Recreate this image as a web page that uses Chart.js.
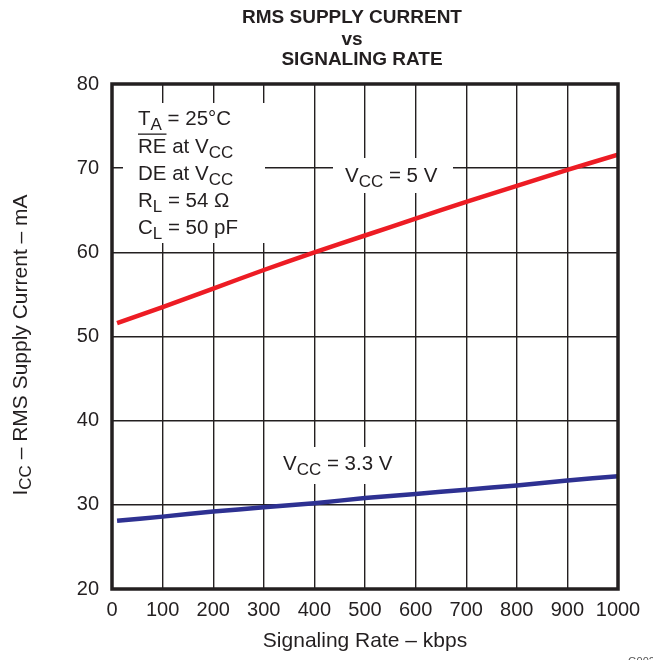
<!DOCTYPE html>
<html>
<head>
<meta charset="utf-8">
<script src="https://cdn.jsdelivr.net/npm/chart.js@4/dist/chart.umd.min.js"></script>
<style>
  html, body { margin: 0; padding: 0; background: #fff; }
  #wrap { width: 653px; height: 660px; }
</style>
</head>
<body>
<div id="wrap"><canvas id="chart" width="653" height="660"></canvas></div>
<script>
// Values
const rateKbps = [10, 100, 200, 300, 400, 500, 600, 700, 800, 900, 1000];
const iccAt5V = [51.6, 53.5, 55.7, 57.9, 60.0, 62.0, 64.0, 66.0, 67.9, 69.8, 71.6];
const iccAt3V3 = [28.1, 28.6, 29.2, 29.7, 30.2, 30.8, 31.3, 31.8, 32.3, 32.9, 33.4];

const xTickMin = 0, xTickMax = 1000, xTickStep = 100;
const yTickMin = 20, yTickMax = 80, yTickStep = 10;

const titleLines = ['RMS SUPPLY CURRENT', 'vs', 'SIGNALING RATE'];
const xAxisTitle = 'Signaling Rate \u2013 kbps';
const yAxisTitle = [{ t: 'I' }, { t: 'CC', sub: true }, { t: ' \u2013 RMS Supply Current \u2013 mA' }];
const conditions = [
    [{ t: 'T' }, { t: 'A', sub: true }, { t: ' = 25\u00B0C' }],
    [{ t: 'RE', over: true }, { t: ' at V' }, { t: 'CC', sub: true }],
    [{ t: 'DE at V' }, { t: 'CC', sub: true }],
    [{ t: 'R' }, { t: 'L', sub: true }, { t: ' = 54 \u03A9' }],
    [{ t: 'C' }, { t: 'L', sub: true }, { t: ' = 50 pF' }]
];
const label5V = [{ t: 'V' }, { t: 'CC', sub: true }, { t: ' = 5 V' }];
const label3V3 = [{ t: 'V' }, { t: 'CC', sub: true }, { t: ' = 3.3 V' }];

const FONT = '"Liberation Sans", Arial, Helvetica, sans-serif';
const INK = '#231f20';

function font(size, bold) {
    return (bold ? 'bold ' : '') + size + 'px ' + FONT;
}

// Measure a run of text parts (with subscripts / overlines)
function richWidth(ctx, parts, size) {
    let w = 0;
    parts.forEach(p => {
        ctx.font = font(p.sub ? Math.round(size * 0.82) : size);
        w += ctx.measureText(p.t).width;
    });
    return w;
}

function drawRich(ctx, parts, x, y, size, align) {
    let cx = align === 'center' ? x - richWidth(ctx, parts, size) / 2 : x;
    parts.forEach(p => {
        ctx.font = font(p.sub ? Math.round(size * 0.82) : size);
        const w = ctx.measureText(p.t).width;
        ctx.fillText(p.t, cx, y + (p.sub ? size * 0.26 : 0));
        if (p.over) {
            ctx.beginPath();
            ctx.lineWidth = 1.3;
            ctx.moveTo(cx, y - size * 0.92);
            ctx.lineTo(cx + w, y - size * 0.92);
            ctx.stroke();
        }
        cx += w;
    });
}

const annotations = {
    id: 'annotations',
    beforeDatasetsDraw(chart) {
        const ctx = chart.ctx;
        ctx.save();
        // white backgrounds that break the grid behind the labels
        ctx.fillStyle = '#fff';
        ctx.fillRect(123, 103, 142, 140);
        ctx.fillRect(333, 158, 120, 35);
        ctx.fillRect(273, 447, 129, 37);

        ctx.fillStyle = INK;
        ctx.strokeStyle = INK;
        ctx.textBaseline = 'alphabetic';
        ctx.textAlign = 'left';
        const baselines = [125, 153, 180, 207, 234];
        conditions.forEach((line, i) => drawRich(ctx, line, 138, baselines[i], 20.5));
        drawRich(ctx, label5V, 345, 182, 20.5);
        drawRich(ctx, label3V3, 283, 470, 20.5);
        ctx.restore();
    },
    afterDraw(chart) {
        const ctx = chart.ctx;
        const a = chart.chartArea;
        ctx.save();
        // plot frame
        ctx.strokeStyle = INK;
        ctx.lineWidth = 3.5;
        ctx.strokeRect(a.left, a.top, a.right - a.left, a.bottom - a.top);

        ctx.fillStyle = INK;
        ctx.textAlign = 'center';
        ctx.textBaseline = 'alphabetic';
        ctx.font = font(19, true);
        ctx.fillText(titleLines[0], 352, 23);
        ctx.fillText(titleLines[1], 352, 45);
        ctx.fillText(titleLines[2], 362, 65);

        ctx.font = font(21);
        ctx.textBaseline = 'middle';
        ctx.fillText(xAxisTitle, 365, 641);

        ctx.save();
        ctx.translate(21, 345);
        ctx.rotate(-Math.PI / 2);
        ctx.textAlign = 'left';
        drawRich(ctx, yAxisTitle, 0, 0, 21, 'center');
        ctx.restore();

        ctx.fillStyle = '#555';
        ctx.textAlign = 'left';
        ctx.textBaseline = 'alphabetic';
        ctx.font = font(11);
        ctx.fillText('G002', 628, 665);
        ctx.restore();
    }
};

const ctx = document.getElementById('chart').getContext('2d');

new Chart(ctx, {
    type: 'line',
    data: {
        datasets: [{
            label: 'VCC = 5 V',
            data: rateKbps.map((x, i) => ({ x: x, y: iccAt5V[i] })),
            borderColor: '#ed1c24',
            borderWidth: 4.5,
            pointRadius: 0,
            tension: 0.2,
            fill: false
        }, {
            label: 'VCC = 3.3 V',
            data: rateKbps.map((x, i) => ({ x: x, y: iccAt3V3[i] })),
            borderColor: '#2e3192',
            borderWidth: 4.5,
            pointRadius: 0,
            tension: 0.2,
            fill: false
        }]
    },
    options: {
        responsive: false,
        maintainAspectRatio: false,
        animation: false,
        layout: {
            padding: { top: 84, right: 35, left: 0, bottom: 0 }
        },
        plugins: {
            legend: { display: false },
            tooltip: { enabled: false },
            title: { display: false }
        },
        scales: {
            x: {
                type: 'linear',
                min: xTickMin,
                max: xTickMax,
                afterFit(scale) { scale.height = 71; },
                border: { display: false },
                grid: { color: INK, lineWidth: 1.4, drawTicks: false },
                ticks: {
                    stepSize: xTickStep,
                    autoSkip: false,
                    color: INK,
                    padding: 9,
                    maxRotation: 0,
                    font: { family: FONT, size: 20 },
                    callback: v => String(v)
                }
            },
            y: {
                min: yTickMin,
                max: yTickMax,
                afterFit(scale) { scale.width = 112; },
                border: { display: false },
                grid: { color: INK, lineWidth: 1.4, drawTicks: false },
                ticks: {
                    stepSize: yTickStep,
                    color: INK,
                    padding: 13,
                    font: { family: FONT, size: 20 }
                }
            }
        }
    },
    plugins: [annotations]
});
</script>
</body>
</html>
